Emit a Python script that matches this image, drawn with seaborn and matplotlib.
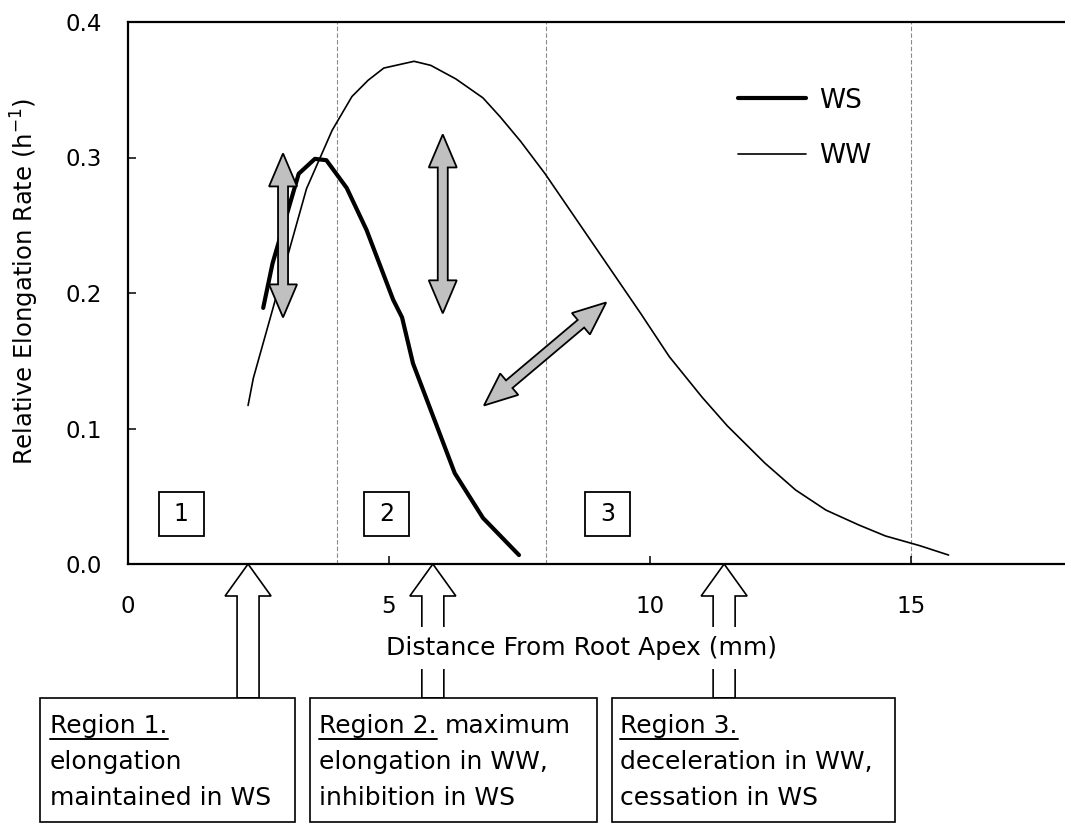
import numpy as np
import pandas as pd
import matplotlib
matplotlib.use("Agg")
import matplotlib.pyplot as plt
import seaborn as sns
from matplotlib.patches import Polygon, Rectangle
from matplotlib.transforms import IdentityTransform
from matplotlib.lines import Line2D

# ---------------- data ----------------
ws_x = [2.59, 2.77, 3.27, 3.58, 3.80, 4.19, 4.57, 5.08, 5.25, 5.46, 6.26, 6.80, 7.49]
ws_y = [0.189, 0.222, 0.288, 0.299, 0.298, 0.2775, 0.2465, 0.195, 0.182, 0.148, 0.067, 0.034, 0.0066]

ww_x = [2.30, 2.40, 3.42, 3.91, 4.29, 4.60, 4.90, 5.48, 5.80, 6.28, 6.80, 7.13, 7.52,
        7.99, 9.82, 10.37, 11.00, 11.48, 12.20, 12.79, 13.37, 14.00, 14.51, 15.17, 15.72]
ww_y = [0.117, 0.137, 0.277, 0.320, 0.345, 0.357, 0.366, 0.371, 0.368, 0.358, 0.344, 0.330, 0.312,
        0.288, 0.185, 0.153, 0.123, 0.102, 0.0745, 0.0546, 0.0398, 0.0288, 0.0207, 0.0135, 0.0066]

zone_bounds = [4, 8, 15]
zone_labels = ["1", "2", "3"]
zone_label_x = [1.02, 4.95, 9.19]
zone_label_y = 0.037

shift_from = [(2.97, 0.182), (6.03, 0.185), (6.82, 0.117)]
shift_to = [(2.97, 0.303), (6.03, 0.317), (9.16, 0.193)]

region_arrow_x = [2.30, 5.84, 11.42]
region_titles = ["Region 1.", "Region 2.", "Region 3."]
region_title_tail = ["", "maximum", ""]
region_lines = [["elongation", "maintained in WS"],
                ["elongation in WW,", "inhibition in WS"],
                ["deceleration in WW,", "cessation in WS"]]

x_ticks = [0, 5, 10, 15]
y_ticks = [0.0, 0.1, 0.2, 0.3, 0.4]

# ---------------- style ----------------
sns.set_style("ticks")
plt.rcParams['font.family'] = ['DejaVu Sans']
plt.rcParams['mathtext.default'] = 'regular'
plt.rcParams.update({'text.color': 'black', 'axes.labelcolor': 'black',
                     'xtick.color': 'black', 'ytick.color': 'black'})

W, H = 1065, 823
fig = plt.figure(figsize=(W / 100, H / 100), dpi=100)
ax = fig.add_axes([128 / W, (H - 564) / H, 939.6 / W, 542 / H])

df_ws = pd.DataFrame({"x": ws_x, "y": ws_y})
df_ww = pd.DataFrame({"x": ww_x, "y": ww_y})
sns.lineplot(data=df_ws, x="x", y="y", color="black", linewidth=3.0, label="WS", ax=ax, sort=False, zorder=2.2)
sns.lineplot(data=df_ww, x="x", y="y", color="black", linewidth=1.2, label="WW", ax=ax, sort=False, zorder=2.1)

for xb in zone_bounds:
    ax.axvline(xb, color="#8a8a8a", linewidth=0.8, linestyle=(0, (4, 2)), zorder=1)

ax.set_xlim(0, 18)
ax.set_ylim(0, 0.4)
ax.set_xticks(x_ticks)
ax.set_xticklabels([str(t) for t in x_ticks])
ax.set_yticks(y_ticks)
ax.set_yticklabels([f"{t:.1f}" for t in y_ticks])
ax.tick_params(axis="x", direction="in", length=6, width=1.1, pad=22, labelsize=16.5, colors="black")
ax.tick_params(axis="y", direction="in", length=6, width=1.1, pad=19, labelsize=16.5, colors="black")
for s in ["left", "bottom", "top"]:
    ax.spines[s].set_linewidth(1.6)
    ax.spines[s].set_color("black")
ax.spines["right"].set_visible(False)

ax.set_ylabel(r"Relative Elongation Rate (h$^{-1}$)", fontsize=17.5, color="black")
ax.yaxis.set_label_coords(-0.093, 0.522)
ax.set_xlabel("Distance From Root Apex (mm)", fontsize=18, color="black",
              bbox=dict(boxstyle="square,pad=0.35", facecolor="white", edgecolor="none"))
ax.xaxis.set_label_coords(0.483, -0.155)
ax.xaxis.label.set_va("center")
ax.xaxis.set_zorder(2.45)

leg = ax.legend(frameon=False, loc="upper left", bbox_to_anchor=(0.649, 0.879), fontsize=19,
                handlelength=2.6, handletextpad=0.5, labelspacing=1.13, borderpad=0, borderaxespad=0)
for t in leg.get_texts():
    t.set_color("black")

ID = IdentityTransform()


def px(x, y):
    return ax.transData.transform((x, y))


def double_arrow(p0, p1, head_len=33, head_hw=14, shaft_hw=5):
    p0, p1 = np.asarray(p0, float), np.asarray(p1, float)
    d = p1 - p0
    u = d / np.hypot(*d)
    n = np.array([-u[1], u[0]])
    a = p0 + u * head_len
    b = p1 - u * head_len
    return [p0, a + n * head_hw, a + n * shaft_hw, b + n * shaft_hw, b + n * head_hw, p1,
            b - n * head_hw, b - n * shaft_hw, a - n * shaft_hw, a - n * head_hw]


# grey double arrows
for (x0, y0), (x1, y1) in zip(shift_from, shift_to):
    verts = double_arrow(px(x0, y0), px(x1, y1))
    ax.add_patch(Polygon(verts, closed=True, facecolor="#c0c0c0", edgecolor="black",
                         linewidth=1.3, transform=ID, zorder=3, clip_on=False))

# zone number boxes
for lab, zx in zip(zone_labels, zone_label_x):
    cx, cy = px(zx, zone_label_y)
    ax.add_patch(Rectangle((cx - 22.5, cy - 22), 45, 44, facecolor="white", edgecolor="black",
                           linewidth=1.3, transform=ID, zorder=3, clip_on=False))
    ax.text(cx, cy, lab, transform=ID, ha="center", va="center", fontsize=17, zorder=4, color="black")

# region boxes
box_top = H - 698
box_spans = [(40, 295), (310, 597), (612, 895)]
for (bx0, bx1) in box_spans:
    fig.add_artist(Rectangle((bx0, 1), bx1 - bx0, box_top - 1, facecolor="white", edgecolor="black",
                             linewidth=1.2, transform=ID, zorder=1))

# hollow region arrows (tip on x axis)
y_axis_px = px(0, 0)[1]
for rx in region_arrow_x:
    tx = px(rx, 0)[0]
    ty = y_axis_px
    verts = [(tx, ty), (tx + 23, ty - 32), (tx + 11, ty - 32), (tx + 11, box_top),
             (tx - 11, box_top), (tx - 11, ty - 32), (tx - 23, ty - 32)]
    ax.add_patch(Polygon(verts, closed=True, facecolor="white", edgecolor="black",
                         linewidth=1.2, transform=ID, zorder=2.4, clip_on=False))

# region texts
text_left = [50, 319, 620]
baselines = [H - 733, H - 769, H - 805]
fs_box = 18
title_artists = []
for i in range(3):
    t = fig.text(text_left[i], baselines[0], region_titles[i], transform=ID, fontsize=fs_box,
                 ha="left", va="baseline", zorder=5, color="black")
    title_artists.append(t)
    for j, line in enumerate(region_lines[i]):
        fig.text(text_left[i], baselines[j + 1], line, transform=ID, fontsize=fs_box,
                 ha="left", va="baseline", zorder=5, color="black")

fig.canvas.draw()
renderer = fig.canvas.get_renderer()
for i, t in enumerate(title_artists):
    bb = t.get_window_extent(renderer)
    fig.add_artist(Line2D([bb.x0, bb.x1], [baselines[0] - 6, baselines[0] - 6], color="black",
                          linewidth=1.4, transform=ID, zorder=5))
    if region_title_tail[i]:
        fig.text(bb.x1 + 0.32 * fs_box * 100 / 72, baselines[0], region_title_tail[i], transform=ID,
                 fontsize=fs_box, ha="left", va="baseline", zorder=5, color="black")

fig.savefig("out.png", dpi=100)
